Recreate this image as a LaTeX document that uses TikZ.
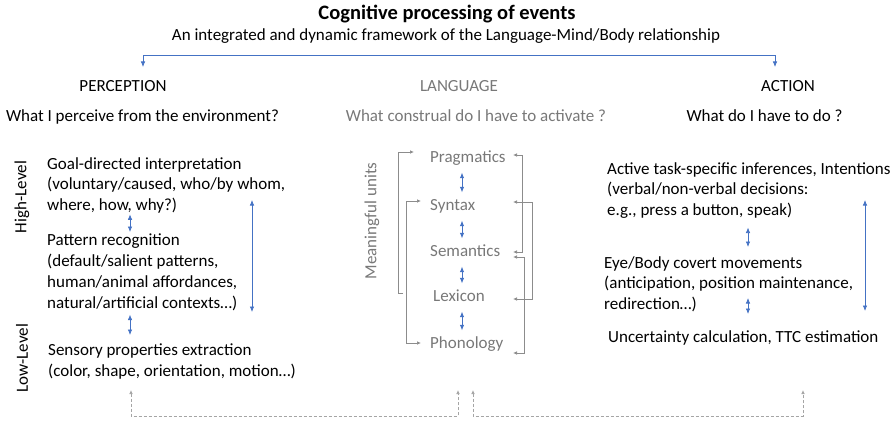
\documentclass[tikz,border=0pt]{standalone}
\usepackage{fontspec}
\setmainfont{Carlito}
\usetikzlibrary{arrows.meta,positioning,calc}
\definecolor{FlowBlue}{RGB}{68,114,196}
\definecolor{LangGrey}{RGB}{120,120,120}
\definecolor{LinkGrey}{RGB}{140,140,140}
\definecolor{BackGrey}{RGB}{165,165,165}

\tikzset{
  bodytxt/.style={inner sep=0pt,align=left,anchor=north west,font=\fontsize{17}{20.7}\selectfont},
  colhead/.style={inner sep=0pt,anchor=base,font=\fontsize{17}{20}\selectfont},
  langword/.style={inner sep=0pt,anchor=base west,text height=12pt,text depth=4pt,text=LangGrey,font=\fontsize{17}{20}\selectfont},
  sidetag/.style={inner sep=0pt,rotate=90,font=\fontsize{17}{20}\selectfont},
  twoway/.style={FlowBlue,line width=0.7pt,{Latex[length=5.5pt,width=4.5pt]}-{Latex[length=5.5pt,width=4.5pt]}},
  forkline/.style={twoway},
  langlink/.style={LinkGrey,line width=0.7pt,-{Latex[length=4pt,width=3.5pt]}},
  langlinks/.style={langlink,{Latex[length=4pt,width=3.5pt]}-{Latex[length=4pt,width=3.5pt]}},
  backlink/.style={BackGrey,line width=0.7pt,dash pattern=on 3pt off 2pt,{Latex[length=4pt,width=3.5pt]}-{Latex[length=4pt,width=3.5pt]}},
}

\begin{document}
\begin{tikzpicture}[x=1pt,y=-1pt]
  \useasboundingbox (0,0) rectangle (896,420);

  % title and the three columns
  \node[colhead,font=\fontsize{20.5}{24}\selectfont\bfseries] (title) at (447,20) {Cognitive processing of events};
  \node[colhead] (subtitle) at (446,41) {An integrated and dynamic framework of the Language-Mind/Body relationship};
  \node[colhead] (perc) at (123,91) {PERCEPTION};
  \node[colhead,text=LangGrey] (lang) at (459,91) {LANGUAGE};
  \node[colhead] (act) at (788,91) {ACTION};
  \node[colhead] (percq) at (142.5,121) {What I perceive from the environment?};
  \node[colhead,text=LangGrey] (langq) at (476,121) {What construal do I have to activate ?};
  \node[colhead] (actq) at (764.5,121) {What do I have to do ?};

  \coordinate (percIn) at (143,67);
  \coordinate (actIn) at (775,67);
  \draw[forkline] (percIn) -- ++(0,-12) -| (actIn);

  % perception
  \node[sidetag] (high) at (22,197) {High-Level};
  \node[sidetag] (low) at (22,358) {Low-Level};
  \node[bodytxt] (goal) at (47,157) {Goal-directed interpretation\\(voluntary/caused, who/by whom,\\where, how, why?)};
  \node[bodytxt] (pattern) at (47,234) {Pattern recognition\\(default/salient patterns,\\human/animal affordances,\\natural/artificial contexts…)};
  \node[bodytxt] (sensory) at (48,344) {Sensory properties extraction\\(color, shape, orientation, motion…)};

  \coordinate (pcol) at (130,0);
  \draw[twoway,shorten <=1pt,shorten >=2pt] (goal.south -| pcol) -- (pattern.north -| pcol);
  \draw[twoway,shorten <=4pt,shorten >=9pt] (pattern.south -| pcol) -- (sensory.north -| pcol);
  \coordinate (pspanTop) at (252,200);
  \coordinate (pspanBot) at (252,312);
  \draw[twoway] (pspanTop) -- (pspanBot);

  % language
  \node[sidetag,text=LangGrey] (units) at (372,221) {Meaningful units};
  \node[langword] (prag) at (430,162.5) {Pragmatics};
  \node[langword] (synt) at (430,210.5) {Syntax};
  \node[langword] (sem) at (430,256.5) {Semantics};
  \node[langword] (lex) at (433,301.5) {Lexicon};
  \node[langword] (phon) at (430,348.5) {Phonology};

  \coordinate (lcol) at (462,0);
  \foreach \a/\b in {prag/synt,synt/sem,sem/lex,lex/phon}
    \draw[twoway,shorten <=6pt,shorten >=6pt] (\a.south -| lcol) -- (\b.north -| lcol);

  \coordinate (lft1) at (398,0);
  \coordinate (lft2) at (406,0);
  \coordinate (rgt1) at (522,0);
  \coordinate (rgt2) at (532,0);
  \coordinate (rgt3) at (524,0);
  \coordinate (rtip) at (513,0);
  \path (prag.west) ++(-16,-6.5) coordinate (pragL)
        (lex.west) ++(-30,-4.5) coordinate (lexL)
        (synt.west) ++(-9,-5.5) coordinate (syntL)
        (phon.west) ++(-9,-1.5) coordinate (phonL)
        (prag.west -| rtip) ++(0,-3.5) coordinate (pragR)
        (sem.west -| rtip) ++(0,-0.5) coordinate (semR)
        (synt.west -| rtip) ++(0,-4.5) coordinate (syntR)
        (lex.west -| rtip) ++(0,1.5) coordinate (lexR)
        (sem.west -| rtip) ++(0,4.5) coordinate (semR2)
        (phon.west -| rtip) ++(0,8.5) coordinate (phonR);
  \draw[langlink] (lexL) -- (lexL -| lft1) |- (pragL);
  \draw[langlinks] (syntL) -- (syntL -| lft2) |- (phonL);
  \draw[langlinks] (pragR) -- (pragR -| rgt1) |- (semR);
  \draw[langlinks] (syntR) -- (syntR -| rgt2) |- (lexR);
  \draw[langlinks] (semR2) -- (semR2 -| rgt3) |- (phonR);

  % action
  \node[bodytxt] (active) at (607,162) {Active task-specific inferences, Intentions\\(verbal/non-verbal decisions:\\e.g., press a button, speak)};
  \node[bodytxt] (eye) at (604,256) {Eye/Body covert movements\\(anticipation, position maintenance,\\redirection…)};
  \node[colhead,anchor=base west] (unc) at (608,342) {Uncertainty calculation, TTC estimation};

  \coordinate (acol) at (748,0);
  \draw[twoway,shorten <=9pt,shorten >=9pt] (active.south -| acol) -- (eye.north -| acol);
  \coordinate (aspanTop) at (748,298);
  \coordinate (aspanBot) at (748,314);
  \draw[twoway] (aspanTop) -- (aspanBot);
  \coordinate (arngTop) at (865,200);
  \coordinate (arngBot) at (865,311);
  \draw[twoway] (arngTop) -- (arngBot);

  % feedback along the bottom
  \coordinate (percFoot) at (131,390);
  \coordinate (langFootL) at (458,390);
  \coordinate (langFootR) at (473,390);
  \coordinate (actFoot) at (803,390);
  \draw[backlink] (percFoot) -- ++(0,26) -| (langFootL);
  \draw[backlink] (langFootR) -- ++(0,26) -| (actFoot);
\end{tikzpicture}
\end{document}
